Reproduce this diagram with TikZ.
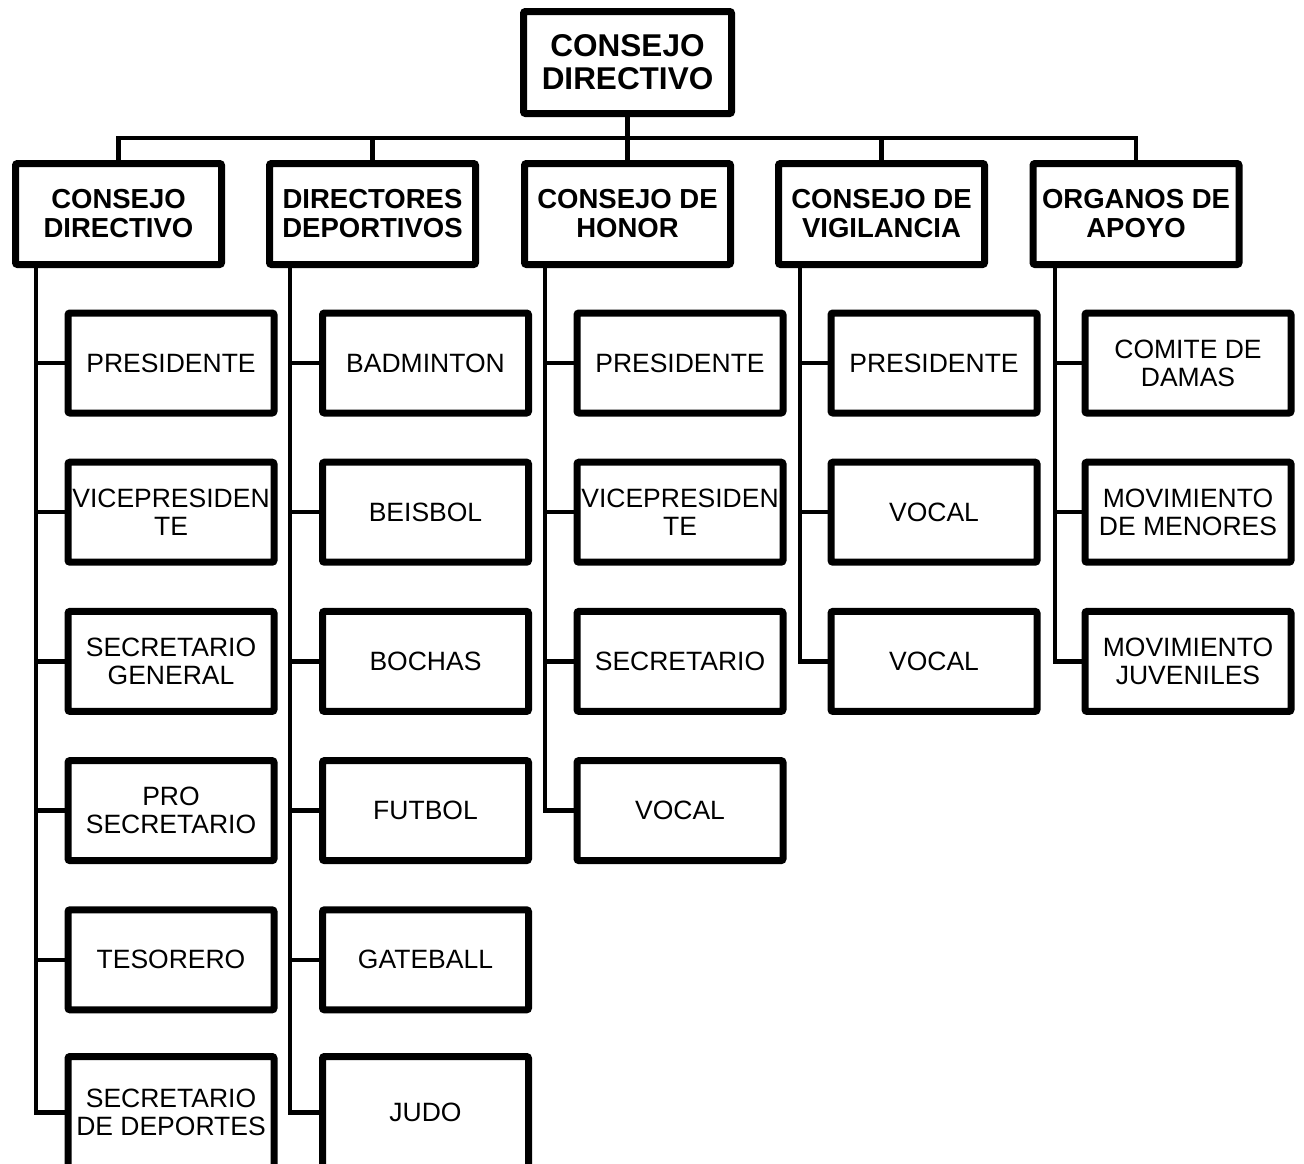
\documentclass[tikz,border=0pt]{standalone}
\usepackage{fontspec}
\setmainfont{Liberation Sans}
\usetikzlibrary{shadows}
\begin{document}
\begin{tikzpicture}[x=1pt,y=-1pt,
  base/.style={draw=black,line width=7pt,fill=white,rounded corners=2pt,align=center,inner sep=0pt,
    drop shadow={shadow xshift=2pt,shadow yshift=-2.5pt,fill=black,opacity=0.22}},
  topbox/.style={base,minimum width=208pt,minimum height=102pt,font=\fontsize{31.5}{33}\selectfont\bfseries},
  headbox/.style={base,minimum width=206pt,minimum height=101pt,font=\fontsize{27.5}{29}\selectfont\bfseries},
  childbox/.style={base,minimum width=206pt,minimum height=100pt,font=\fontsize{26.5}{28}\selectfont},
  lastbox/.style={childbox,minimum height=112pt},
  conn/.style={line width=4.5pt,line cap=butt,line join=miter}]
\useasboundingbox (0,0) rectangle (1304,1163);
\clip (0,0) rectangle (1304,1163);
% top
\node[topbox] (top) at (627.5,62.5) {CONSEJO\\DIRECTIVO};
% heads
\node[headbox] (h1) at (118.5,214) {CONSEJO\\DIRECTIVO};
\node[headbox] (h2) at (372.5,214) {DIRECTORES\\DEPORTIVOS};
\node[headbox] (h3) at (627.5,214) {CONSEJO DE\\HONOR};
\node[headbox] (h4) at (881.5,214) {CONSEJO DE\\VIGILANCIA};
\node[headbox] (h5) at (1136,214) {ORGANOS DE\\APOYO};
\coordinate (bar) at (627.5,138);
\draw[conn] (top.south) -- (h3.north);
\draw[conn] (h1.north) |- (bar) -| (h5.north);
\draw[conn] (h2.north) -- (h2.north |- bar);
\draw[conn] (h4.north) -- (h4.north |- bar);
% children
\def\rowy#1{363+149.2*(#1-1)}
\foreach \t [count=\i] in {PRESIDENTE,VICEPRESIDEN\\TE,SECRETARIO\\GENERAL,PRO\\SECRETARIO,TESORERO}
  \node[childbox] (c1\i) at (171,{\rowy{\i}}) {\t};
\node[lastbox] (c16) at (171,1112.5) {SECRETARIO\\DE DEPORTES};
\foreach \t [count=\i] in {BADMINTON,BEISBOL,BOCHAS,FUTBOL,GATEBALL}
  \node[childbox] (c2\i) at (425.5,{\rowy{\i}}) {\t};
\node[lastbox] (c26) at (425.5,1112.5) {JUDO};
\foreach \t [count=\i] in {PRESIDENTE,VICEPRESIDEN\\TE,SECRETARIO,VOCAL}
  \node[childbox] (c3\i) at (680,{\rowy{\i}}) {\t};
\foreach \t [count=\i] in {PRESIDENTE,VOCAL,VOCAL}
  \node[childbox] (c4\i) at (934,{\rowy{\i}}) {\t};
\foreach \t [count=\i] in {COMITE DE\\DAMAS,MOVIMIENTO\\DE MENORES,MOVIMIENTO\\JUVENILES}
  \node[childbox] (c5\i) at (1188,{\rowy{\i}}) {\t};
% spines
\coordinate (s1) at (36,268);
\coordinate (s2) at (290,268);
\coordinate (s3) at (545,268);
\coordinate (s4) at (800,268);
\coordinate (s5) at (1055,268);
\draw[conn] (s1) |- (c16.west);
\foreach \i in {1,...,5} \draw[conn] (s1 |- c1\i.west) -- (c1\i.west);
\draw[conn] (s2) |- (c26.west);
\foreach \i in {1,...,5} \draw[conn] (s2 |- c2\i.west) -- (c2\i.west);
\draw[conn] (s3) |- (c34.west);
\foreach \i in {1,...,3} \draw[conn] (s3 |- c3\i.west) -- (c3\i.west);
\draw[conn] (s4) |- (c43.west);
\foreach \i in {1,...,2} \draw[conn] (s4 |- c4\i.west) -- (c4\i.west);
\draw[conn] (s5) |- (c53.west);
\foreach \i in {1,...,2} \draw[conn] (s5 |- c5\i.west) -- (c5\i.west);
\end{tikzpicture}
\end{document}
